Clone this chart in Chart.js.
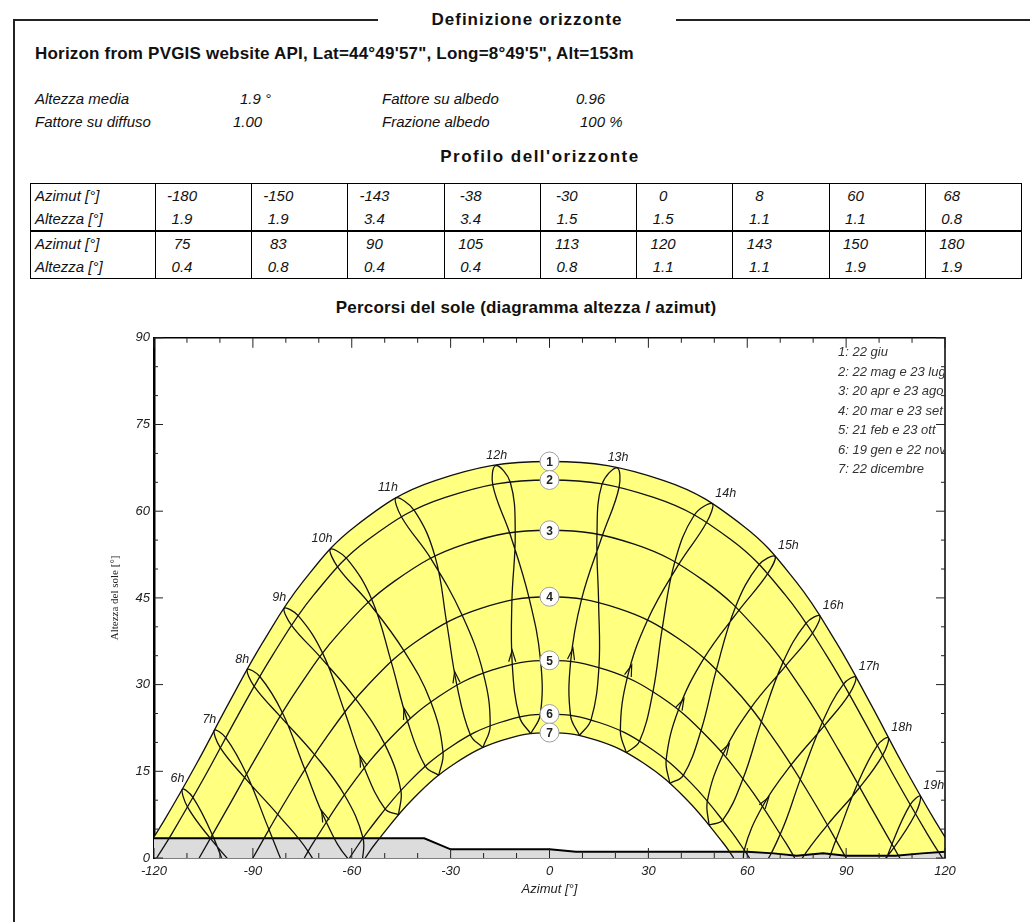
<!DOCTYPE html>
<html lang="it">
<head>
<meta charset="utf-8">
<title>Definizione orizzonte</title>
<script src="https://cdn.jsdelivr.net/npm/chart.js@4.4.1/dist/chart.umd.min.js"></script>
<style>
  body { margin: 0; background: #fff; font-family: "Liberation Sans", Arial, sans-serif; color: #111; }
  #page { position: relative; width: 1030px; height: 922px; overflow: hidden; }
  .abs { position: absolute; white-space: nowrap; }
  .rule { position: absolute; background: #222; }
  .bold16 { font-weight: bold; font-size: 17px; line-height: 20px; }
  .param { font-style: italic; font-size: 15px; line-height: 16px; }
  #horizonTable { position: absolute; left: 30px; top: 183px; width: 992px; table-layout: fixed;
    border-collapse: collapse; font-style: italic; font-size: 15px; }
  #horizonTable td { border-left: 1px solid #000; border-right: 1px solid #000; height: 23px; padding: 0; line-height: 23px; }
  #horizonTable tr.top td { border-top: 1px solid #000; }
  #horizonTable tr.mid td { border-top: 2px solid #000; }
  #horizonTable tr.last td { border-bottom: 1px solid #000; }
  #horizonTable td.head { padding-left: 4px; }
  #horizonTable td span { display: inline-block; width: 52px; text-align: center; }
  #chartBox { position: absolute; left: 100px; top: 326px; width: 870px; height: 580px; }
</style>
</head>
<body>
<div id="page">
  <div class="rule" style="left:13px; top:19px; width:365px; height:1.5px;"></div>
  <div class="rule" style="left:676px; top:19px; width:354px; height:1.5px;"></div>
  <div class="rule" style="left:13px; top:19px; width:1.5px; height:903px;"></div>
  <div class="abs bold16" style="left:378px; width:298px; top:10px; text-align:center; letter-spacing:1px;">Definizione orizzonte</div>
  <div class="abs bold16" style="left:35px; top:44px; letter-spacing:0.2px;">Horizon from PVGIS website API, Lat=44°49'57", Long=8°49'5", Alt=153m</div>

  <div class="abs param" style="left:35px; top:91px;">Altezza media</div>
  <div class="abs param" style="left:240px; top:91px;">1.9 °</div>
  <div class="abs param" style="left:382px; top:91px;">Fattore su albedo</div>
  <div class="abs param" style="left:576px; top:91px;">0.96</div>
  <div class="abs param" style="left:35px; top:114px;">Fattore su diffuso</div>
  <div class="abs param" style="left:233px; top:114px;">1.00</div>
  <div class="abs param" style="left:382px; top:114px;">Frazione albedo</div>
  <div class="abs param" style="left:580px; top:114px;">100 %</div>

  <div class="abs bold16" style="left:340px; width:400px; top:147px; text-align:center; letter-spacing:1.5px;">Profilo dell'orizzonte</div>
  <table id="horizonTable"></table>

  <div class="abs bold16" style="left:276px; width:500px; top:298px; text-align:center; letter-spacing:0.2px;">Percorsi del sole (diagramma altezza / azimut)</div>
  <div id="chartBox"><canvas id="sunChart" width="870" height="580"></canvas></div>
</div>

<script>
// profilo dell'orizzonte (tabella)
const horizonAz = [-180, -150, -143, -38, -30, 0, 8, 60, 68, 75, 83, 90, 105, 113, 120, 143, 150, 180];
const horizonAlt = [1.9, 1.9, 3.4, 3.4, 1.5, 1.5, 1.1, 1.1, 0.8, 0.4, 0.8, 0.4, 0.4, 0.8, 1.1, 1.1, 1.9, 1.9];

// percorsi giornalieri 1..7
const dayDates = ['22 giu', '22 mag e 23 lug', '20 apr e 23 ago', '20 mar e 23 set', '21 feb e 23 ott', '19 gen e 22 nov', '22 dicembre'];
const dayAz = [
  [-124.1, -116.9, -107.1, -97.4, -87.0, -74.8, -58.7, -34.7, 0, 34.7, 58.7, 74.8, 87.0, 97.4, 107.1, 116.9, 124.1],
  [-119.2, -114.7, -104.6, -94.6, -83.9, -71.4, -55.0, -31.6, 0, 31.6, 55.0, 71.4, 83.9, 94.6, 104.6, 114.7, 119.2],
  [-106.3, -98.2, -87.7, -76.5, -63.4, -47.0, -25.7, 0, 25.7, 47.0, 63.4, 76.5, 87.7, 98.2, 106.3],
  [-90, -79.3, -67.8, -54.8, -39.3, -20.8, 0, 20.8, 39.3, 54.8, 67.8, 79.3, 90],
  [-74.4, -71.7, -60.5, -48.0, -33.7, -17.5, 0, 17.5, 33.7, 48.0, 60.5, 71.7, 74.4],
  [-60.7, -54.6, -42.9, -29.8, -15.3, 0, 15.3, 29.8, 42.9, 54.6, 60.7],
  [-55.9, -52.7, -41.3, -28.6, -14.7, 0, 14.7, 28.6, 41.3, 52.7, 55.9]
];
const dayAlt = [
  [0, 6.5, 16.3, 26.7, 37.3, 47.8, 57.5, 65.3, 68.6, 65.3, 57.5, 47.8, 37.3, 26.7, 16.3, 6.5, 0],
  [0, 4.1, 14.1, 24.6, 35.2, 45.6, 55.1, 62.4, 65.4, 62.4, 55.1, 45.6, 35.2, 24.6, 14.1, 4.1, 0],
  [0, 8.1, 18.7, 29.2, 39.2, 47.9, 54.3, 56.7, 54.3, 47.9, 39.2, 29.2, 18.7, 8.1, 0],
  [0, 10.6, 20.8, 30.1, 37.9, 43.2, 45.2, 43.2, 37.9, 30.1, 20.8, 10.6, 0],
  [0, 2.6, 12.3, 20.9, 27.9, 32.5, 34.2, 32.5, 27.9, 20.9, 12.3, 2.6, 0],
  [0, 5.0, 13.0, 19.3, 23.4, 24.9, 23.4, 19.3, 13.0, 5.0, 0],
  [0, 2.6, 10.3, 16.4, 20.3, 21.7, 20.3, 16.4, 10.3, 2.6, 0]
];

// analemmi orari: 22 dic, 19 gen, 21 feb, 20 mar, 20 apr, 22 mag, 22 giu, 23 lug, 23 ago, 23 set, 23 ott, 22 nov
const hourLabels = ['6h', '7h', '8h', '9h', '10h', '11h', '12h', '13h', '14h', '15h', '16h', '17h', '18h', '19h'];
const hourAz = [
  [-76.7, -81.1, -88.8, -95.7, -102.3, -108.2, -111.4, -109.8, -102.9, -93.1, -83.7, -77.1],
  [-67.0, -71.2, -78.4, -85.1, -91.9, -98.2, -101.7, -99.9, -92.5, -82.4, -73.2, -67.1],
  [-56.8, -61.0, -67.7, -74.2, -81.0, -87.9, -91.7, -89.6, -81.7, -71.3, -62.2, -56.6],
  [-45.8, -49.9, -56.2, -62.1, -68.8, -76.2, -80.5, -78.2, -69.6, -58.8, -50.0, -45.1],
  [-33.6, -37.7, -43.1, -48.0, -53.9, -61.5, -66.5, -64.2, -54.9, -44.1, -36.0, -32.3],
  [-20.2, -24.0, -28.1, -31.2, -34.7, -41.0, -46.6, -44.9, -36.0, -26.5, -20.1, -18.0],
  [-5.7, -9.1, -11.3, -11.4, -10.4, -11.9, -16.3, -17.2, -12.0, -6.2, -2.7, -2.8],
  [9.1, 6.4, 6.4, 9.7, 16.0, 21.1, 20.5, 15.9, 14.4, 14.9, 15.0, 12.6],
  [23.3, 21.5, 23.6, 29.7, 39.2, 47.6, 49.4, 43.9, 38.0, 34.2, 31.4, 27.3],
  [36.5, 35.4, 39.1, 46.8, 57.4, 66.1, 68.4, 63.5, 56.4, 50.6, 46.0, 40.6],
  [48.4, 47.9, 52.7, 61.0, 71.6, 79.8, 82.0, 77.8, 70.8, 64.3, 58.7, 52.6],
  [59.2, 59.1, 64.6, 73.3, 83.4, 91.0, 92.9, 89.2, 82.8, 76.1, 70.0, 63.4],
  [69.2, 69.5, 75.5, 84.3, 94.1, 101.1, 102.8, 99.5, 93.5, 86.9, 80.6, 73.5],
  [78.9, 79.4, 85.9, 94.9, 104.5, 111.0, 112.5, 109.4, 103.9, 97.6, 91.1, 83.5]
];
const hourAlt = [
  [-20.3, -20.3, -14.5, -5.7, 4.0, 10.5, 11.9, 8.8, 3.4, -3.1, -9.3, -16.0],
  [-10.2, -10.0, -4.0, 4.9, 14.5, 20.8, 22.1, 19.1, 13.9, 7.5, 1.1, -5.9],
  [-0.8, -0.2, 6.2, 15.3, 25.1, 31.4, 32.6, 29.7, 24.5, 17.9, 10.9, 3.5],
  [7.5, 8.5, 15.6, 25.2, 35.4, 41.9, 43.2, 40.2, 34.8, 27.5, 19.7, 11.7],
  [14.3, 15.9, 23.7, 33.9, 44.7, 51.8, 53.4, 50.3, 44.2, 35.8, 27.0, 18.3],
  [19.1, 21.3, 29.9, 40.7, 52.1, 60.1, 62.3, 59.0, 51.8, 42.0, 32.0, 22.9],
  [21.5, 24.4, 33.5, 44.6, 56.3, 65.0, 67.9, 64.5, 56.1, 45.0, 34.1, 24.8],
  [21.2, 24.6, 33.9, 44.7, 55.7, 64.1, 67.5, 64.6, 55.9, 44.2, 33.0, 23.9],
  [18.2, 22.0, 31.2, 41.1, 50.8, 58.0, 61.3, 59.3, 51.2, 39.7, 28.8, 20.2],
  [12.9, 17.0, 25.6, 34.5, 42.8, 49.1, 52.2, 50.7, 43.4, 32.5, 22.1, 14.3],
  [5.7, 9.9, 18.0, 25.9, 33.2, 38.9, 41.9, 40.6, 33.8, 23.6, 13.7, 6.6],
  [-2.9, 1.4, 8.9, 16.1, 22.9, 28.4, 31.3, 30.1, 23.5, 13.6, 4.1, -2.4],
  [-12.4, -8.2, -1.1, 5.7, 12.2, 17.8, 20.8, 19.5, 12.9, 3.1, -6.2, -12.3],
  [-22.6, -18.5, -11.5, -4.9, 1.8, 7.6, 10.7, 9.2, 2.4, -7.5, -16.7, -22.7]
];

// ============ tabella profilo orizzonte ============
const table = document.getElementById('horizonTable');
let cols = '<colgroup><col style="width:125px">';
for (let i = 0; i < 9; i++) cols += '<col>';
cols += '</colgroup>';
let rows = '';
for (let half = 0; half < 2; half++) {
  const az = horizonAz.slice(half * 9, half * 9 + 9);
  const alt = horizonAlt.slice(half * 9, half * 9 + 9);
  rows += '<tr class="' + (half === 0 ? 'top' : 'mid') + '"><td class="head">Azimut [°]</td>' +
    az.map(v => '<td><span>' + v + '</span></td>').join('') + '</tr>';
  rows += '<tr' + (half === 1 ? ' class="last"' : '') + '><td class="head">Altezza [°]</td>' +
    alt.map(v => '<td><span>' + v.toFixed(1) + '</span></td>').join('') + '</tr>';
}
table.innerHTML = cols + rows;

// ============ grafico ============
function toPts(xs, ys) {
  return xs.map((x, i) => ({ x: x, y: ys[i] }));
}

const lineColor = '#111';
const datasets = [];
// fascia gialla tra 22 giu e 22 dic
datasets.push({ data: toPts(dayAz[0], dayAlt[0]), showLine: true, tension: 0.4, pointRadius: 0,
  borderWidth: 0, fill: 'origin', backgroundColor: '#ffff80', order: 100 });
datasets.push({ data: toPts(dayAz[6], dayAlt[6]), showLine: true, tension: 0.4, pointRadius: 0,
  borderWidth: 0, fill: 'origin', backgroundColor: '#ffffff', order: 90 });
// orizzonte
datasets.push({ data: toPts(horizonAz, horizonAlt), showLine: true, tension: 0, pointRadius: 0,
  borderWidth: 2, borderColor: '#000', fill: 'origin', backgroundColor: '#dcdcdc', order: 80 });

dayAz.forEach((xs, i) => {
  datasets.push({ data: toPts(xs, dayAlt[i]), showLine: true, tension: 0.4, pointRadius: 0,
    borderWidth: 1.3, borderColor: lineColor, fill: false, order: 10 });
});

const hourStart = datasets.length;
hourAz.forEach((xs, i) => {
  const pts = toPts(xs, hourAlt[i]);
  pts.push(pts[0]);
  datasets.push({ data: pts, showLine: true, tension: 0.4, pointRadius: 0,
    borderWidth: 1.3, borderColor: lineColor, fill: false, order: 10 });
});

const markerIndex = datasets.length;
datasets.push({
  data: dayAz.map((xs, i) => ({ x: 0, y: dayAlt[i][xs.indexOf(0)] })),
  showLine: false, pointRadius: 9.5, pointBackgroundColor: '#fff', pointBorderColor: '#a0a0a0',
  pointBorderWidth: 1, order: 0
});

const tickFont = { family: 'Liberation Sans', size: 13, style: 'italic' };

const sunPlugin = {
  id: 'sunPlugin',
  afterDatasetsDraw(chart) {
    const { ctx, chartArea: a, scales: { x, y } } = chart;
    ctx.save();
    // cornice sopra e a destra
    ctx.strokeStyle = '#000';
    ctx.lineWidth = 1.5;
    ctx.beginPath();
    ctx.moveTo(a.left, a.top);
    ctx.lineTo(a.right, a.top);
    ctx.lineTo(a.right, a.bottom);
    ctx.stroke();

    // tacche interne
    ctx.lineWidth = 1;
    ctx.strokeStyle = '#222';
    ctx.beginPath();
    for (let v = -120; v <= 120; v += 10) {
      const px = x.getPixelForValue(v);
      const len = v % 30 === 0 ? 10 : 5;
      ctx.moveTo(px, a.top); ctx.lineTo(px, a.top + len);
      ctx.moveTo(px, a.bottom); ctx.lineTo(px, a.bottom - len);
    }
    for (let v = 0; v <= 90; v += 5) {
      const py = y.getPixelForValue(v);
      const len = v % 15 === 0 ? 9 : 4;
      ctx.moveTo(a.left, py); ctx.lineTo(a.left + len, py);
      ctx.moveTo(a.right, py); ctx.lineTo(a.right - len, py);
    }
    ctx.stroke();

    // frecce sugli analemmi (tratto 21 feb -> 20 mar)
    ctx.save();
    ctx.beginPath();
    ctx.rect(a.left, a.top, a.right - a.left, a.bottom - a.top);
    ctx.clip();
    ctx.strokeStyle = lineColor;
    ctx.lineWidth = 1.2;
    hourLabels.forEach((lbl, i) => {
      const pts = chart.getDatasetMeta(hourStart + i).data;
      const p0 = pts[2], p1 = pts[3];
      const tx = p0.x + (p1.x - p0.x) * 0.22;
      const ty = p0.y + (p1.y - p0.y) * 0.22;
      if (ty > y.getPixelForValue(4)) return;
      const ang = Math.atan2(p1.y - p0.y, p1.x - p0.x);
      const L = 12, w = 0.3;
      ctx.beginPath();
      ctx.moveTo(tx - L * Math.cos(ang - w), ty - L * Math.sin(ang - w));
      ctx.lineTo(tx, ty);
      ctx.lineTo(tx - L * Math.cos(ang + w), ty - L * Math.sin(ang + w));
      ctx.stroke();
    });
    ctx.restore();

    // etichette ore
    ctx.font = 'italic 12.5px "Liberation Sans"';
    ctx.fillStyle = '#222';
    ctx.textBaseline = 'alphabetic';
    hourLabels.forEach((lbl, i) => {
      const p = chart.getDatasetMeta(hourStart + i).data[6];
      const az = hourAz[i][6];
      if (az < -30) { ctx.textAlign = 'right'; ctx.fillText(lbl, p.x + 2, p.y - 7); }
      else if (az > 30) { ctx.textAlign = 'left'; ctx.fillText(lbl, p.x + 3, p.y - 7); }
      else { ctx.textAlign = 'center'; ctx.fillText(lbl, p.x + 1, p.y - 7); }
    });

    // numeri nei cerchi
    ctx.font = 'bold 12px "Liberation Sans"';
    ctx.fillStyle = '#222';
    ctx.textAlign = 'center';
    ctx.textBaseline = 'middle';
    chart.getDatasetMeta(markerIndex).data.forEach((p, i) => {
      ctx.fillText(String(i + 1), p.x, p.y + 1);
    });

    // legenda date (tagliata dal riquadro)
    ctx.save();
    ctx.beginPath();
    ctx.rect(a.left, a.top, a.right - a.left - 1, a.bottom - a.top);
    ctx.clip();
    ctx.font = 'italic 13px "Liberation Sans"';
    ctx.fillStyle = '#333';
    ctx.textAlign = 'left';
    ctx.textBaseline = 'middle';
    dayDates.forEach((d, i) => {
      ctx.fillText((i + 1) + ': ' + d, a.right - 107, a.top + 15 + i * 19.5);
    });
    ctx.restore();

    ctx.restore();
  }
};

new Chart(document.getElementById('sunChart'), {
  type: 'scatter',
  data: { datasets: datasets },
  options: {
    responsive: false,
    animation: false,
    layout: { padding: { left: 0, right: 25, top: 10, bottom: 0 } },
    plugins: { legend: { display: false }, tooltip: { enabled: false } },
    scales: {
      x: {
        type: 'linear', min: -120, max: 120,
        afterFit: s => { s.height = 48; },
        ticks: { stepSize: 30, padding: 6, color: '#222', font: tickFont, maxRotation: 0, autoSkip: false },
        grid: { display: false, drawTicks: false },
        border: { display: true, color: '#000', width: 1.5 },
        title: { display: true, text: 'Azimut [°]', color: '#222', font: tickFont, padding: { top: 0, bottom: 9 } }
      },
      y: {
        type: 'linear', min: 0, max: 90,
        afterFit: s => { s.width = 54; },
        ticks: { stepSize: 15, padding: 4, color: '#222', font: tickFont },
        grid: { display: false, drawTicks: false },
        border: { display: true, color: '#000', width: 2.5 },
        title: { display: true, text: 'Altezza del sole [°]', color: '#222',
          font: { family: 'Liberation Serif', size: 11 }, padding: { top: 9, bottom: 0 } }
      }
    }
  },
  plugins: [sunPlugin]
});
</script>
</body>
</html>
